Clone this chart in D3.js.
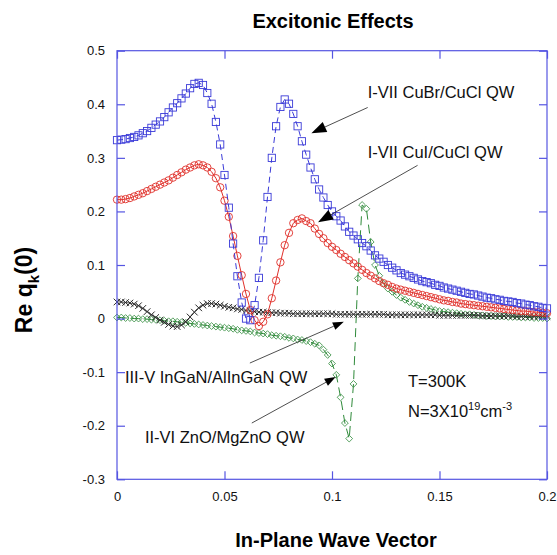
<!DOCTYPE html>
<html><head><meta charset="utf-8">
<script src="https://cdn.jsdelivr.net/npm/d3@7"></script>
<style>body{margin:0;background:#fff}</style>
</head><body>
<svg id="c" width="557" height="555"></svg>
<script>
// ---- data ----
const xValues = [
 0,0.002,0.004,0.006,0.008,0.010,0.012,0.014,0.016,0.018,
 0.020,0.022,0.024,0.026,0.028,0.030,0.032,0.034,0.036,0.038,
 0.040,0.042,0.044,0.046,0.048,0.050,0.052,0.054,0.056,0.058,
 0.060,0.062,0.064,0.066,0.068,0.070,0.072,0.074,0.076,0.078,
 0.080,0.082,0.084,0.086,0.088,0.090,0.092,0.094,0.096,0.098,
 0.100,0.102,0.104,0.106,0.108,0.110,0.112,0.114,0.116,0.118,
 0.120,0.122,0.124,0.126,0.128,0.130,0.132,0.134,0.136,0.138,
 0.140,0.142,0.144,0.146,0.148,0.150,0.152,0.154,0.156,0.158,
 0.160,0.162,0.164,0.166,0.168,0.170,0.172,0.174,0.176,0.178,
 0.180,0.182,0.184,0.186,0.188,0.190,0.192,0.194,0.196,0.198,0.200];

const cuBrCuCl = [
 0.333,0.334,0.335,0.337,0.339,0.342,0.346,0.350,0.356,0.362,
 0.368,0.376,0.385,0.394,0.402,0.411,0.420,0.430,0.438,0.440,
 0.436,0.421,0.401,0.367,0.325,0.268,0.207,0.140,0.079,0.030,
 0.000,-0.003,0.025,0.076,0.146,0.227,0.300,0.359,0.395,0.409,
 0.401,0.382,0.359,0.331,0.306,0.282,0.260,0.241,0.226,0.212,
 0.200,0.191,0.183,0.172,0.162,0.155,0.148,0.141,0.135,0.127,
 0.118,0.112,0.106,0.100,0.095,0.090,0.085,0.082,0.079,0.076,
 0.073,0.070,0.068,0.066,0.063,0.061,0.058,0.056,0.054,0.052,
 0.050,0.048,0.046,0.045,0.043,0.041,0.039,0.038,0.036,0.035,
 0.033,0.032,0.031,0.029,0.028,0.026,0.025,0.023,0.022,0.020,0.019];

const cuICuCl = [
 0.222,0.222,0.223,0.225,0.228,0.231,0.234,0.238,0.242,0.246,
 0.250,0.254,0.258,0.263,0.268,0.273,0.278,0.282,0.286,0.288,
 0.286,0.282,0.274,0.262,0.245,0.220,0.190,0.154,0.117,0.081,
 0.046,0.016,-0.003,-0.014,-0.006,0.008,0.038,0.071,0.105,0.137,
 0.160,0.178,0.184,0.187,0.182,0.178,0.168,0.158,0.150,0.141,
 0.134,0.128,0.121,0.115,0.109,0.103,0.097,0.091,0.085,0.080,
 0.075,0.070,0.066,0.063,0.059,0.056,0.054,0.052,0.050,0.048,
 0.046,0.044,0.042,0.040,0.038,0.036,0.034,0.033,0.031,0.030,
 0.028,0.027,0.026,0.025,0.024,0.023,0.022,0.021,0.020,0.019,
 0.018,0.017,0.016,0.015,0.014,0.014,0.013,0.012,0.012,0.011,0.010];

const inGaN = [
 0.031,0.031,0.030,0.029,0.027,0.024,0.019,0.013,0.007,0.002,
 -0.003,-0.007,-0.011,-0.014,-0.015,-0.012,-0.006,0.003,0.012,0.020,
 0.025,0.028,0.028,0.027,0.025,0.023,0.021,0.020,0.018,0.017,
 0.015,0.014,0.013,0.012,0.012,0.011,0.011,0.011,0.010,0.010,
 0.010,0.009,0.009,0.009,0.009,0.009,0.009,0.009,0.009,0.009,
 0.009,0.008,0.008,0.008,0.008,0.008,0.008,0.008,0.008,0.008,
 0.008,0.008,0.008,0.007,0.007,0.007,0.007,0.007,0.007,0.007,
 0.007,0.007,0.007,0.007,0.007,0.006,0.006,0.006,0.006,0.006,
 0.006,0.006,0.006,0.006,0.006,0.005,0.005,0.005,0.005,0.005,
 0.005,0.005,0.005,0.004,0.004,0.004,0.004,0.004,0.004,0.004,0.004];

const znO = [
 0.002,0.002,0.001,0.001,0.000,0.000,-0.001,-0.001,-0.002,-0.002,
 -0.003,-0.004,-0.005,-0.005,-0.006,-0.007,-0.008,-0.009,-0.010,-0.011,
 -0.012,-0.013,-0.014,-0.015,-0.016,-0.017,-0.018,-0.019,-0.021,-0.022,
 -0.023,-0.024,-0.026,-0.027,-0.028,-0.029,-0.031,-0.032,-0.033,-0.034,
 -0.036,-0.037,-0.039,-0.040,-0.042,-0.044,-0.047,-0.050,-0.058,-0.068,
 -0.084,-0.105,-0.147,-0.195,-0.224,-0.122,0.075,0.212,0.205,0.143,
 0.100,0.080,0.065,0.056,0.050,0.044,0.039,0.035,0.031,0.028,
 0.025,0.022,0.020,0.018,0.016,0.014,0.013,0.012,0.011,0.010,
 0.009,0.008,0.008,0.007,0.006,0.006,0.005,0.005,0.004,0.004,
 0.004,0.003,0.003,0.003,0.002,0.002,0.002,0.001,0.001,0.001,0.000];

const xTicks = [0, 0.05, 0.1, 0.15, 0.2];
const xTickLabels = ["0", "0.05", "0.1", "0.15", "0.2"];
const yTicks = [-0.3, -0.2, -0.1, 0, 0.1, 0.2, 0.3, 0.4, 0.5];
const yTickLabels = ["-0.3", "-0.2", "-0.1", "0", "0.1", "0.2", "0.3", "0.4", "0.5"];

const seriesNames = ["I-VII CuBr/CuCl QW", "I-VII CuI/CuCl QW", "III-V InGaN/AlInGaN QW", "II-VI ZnO/MgZnO QW"];

// ---- drawing ----
const svg = d3.select("#c");
const FONT = "'Liberation Sans', Arial, Helvetica, sans-serif";
const axisColor = "#5555e2";

const x = d3.scaleLinear().domain([0, 0.2]).range([117, 547]);
const y = d3.scaleLinear().domain([-0.3, 0.5]).range([479.3, 50.7]);

svg.append("rect").attr("width", 557).attr("height", 555).attr("fill", "#fff");

const series = [
  {vals: znO,      color: "#2f8a3a", dash: "9,5", sym: "diamond", lw: 1},
  {vals: inGaN,    color: "#2a2a2a", dash: null,  sym: "cross",   lw: 0.8},
  {vals: cuICuCl,  color: "#e0302a", dash: null,  sym: "circle",  lw: 1},
  {vals: cuBrCuCl, color: "#3a3ad8", dash: "6,4", sym: "square",  lw: 1}
];

const line = d3.line().x(d => x(d[0])).y(d => y(d[1]));
const plot = svg.append("g");

series.forEach(s => {
  const pts = xValues.map((xv, i) => [xv, s.vals[i]]);
  plot.append("path").attr("d", line(pts)).attr("fill", "none")
    .attr("stroke", s.color).attr("stroke-width", s.lw)
    .attr("stroke-dasharray", s.dash);
  const g = plot.append("g");
  pts.forEach(p => {
    const cx = x(p[0]), cy = y(p[1]);
    if (s.sym === "circle") {
      g.append("circle").attr("cx", cx).attr("cy", cy).attr("r", 3.7)
        .attr("fill", "none").attr("stroke", s.color).attr("stroke-width", 0.9);
    } else if (s.sym === "square") {
      g.append("rect").attr("x", cx - 3.6).attr("y", cy - 3.6).attr("width", 7.2).attr("height", 7.2)
        .attr("fill", "none").attr("stroke", s.color).attr("stroke-width", 0.9);
    } else if (s.sym === "diamond") {
      g.append("path").attr("d", `M${cx},${cy-3.4}L${cx+3.4},${cy}L${cx},${cy+3.4}L${cx-3.4},${cy}Z`)
        .attr("fill", "none").attr("stroke", s.color).attr("stroke-width", 0.8);
    } else {
      g.append("path").attr("d", `M${cx-3.3},${cy-3.3}L${cx+3.3},${cy+3.3}M${cx-3.3},${cy+3.3}L${cx+3.3},${cy-3.3}`)
        .attr("fill", "none").attr("stroke", s.color).attr("stroke-width", 1);
    }
  });
});

// frame
svg.append("rect").attr("x", 117).attr("y", 50.7).attr("width", 430).attr("height", 428.6)
  .attr("fill", "none").attr("stroke", axisColor).attr("stroke-width", 1.2);

function styleAxis(g) {
  g.select(".domain").remove();
  g.selectAll(".tick line").attr("stroke", axisColor).attr("stroke-width", 1.2);
  g.selectAll(".tick text").attr("fill", "#111").style("font-family", FONT).style("font-size", "13px");
}
svg.append("g").attr("transform", "translate(0,479.3)")
  .call(d3.axisBottom(x).tickValues(xTicks).tickSize(-8).tickPadding(12)
    .tickFormat((d, i) => xTickLabels[i])).call(styleAxis);
svg.append("g").attr("transform", "translate(0,50.7)")
  .call(d3.axisTop(x).tickValues(xTicks).tickSize(-8).tickFormat("")).call(styleAxis);
svg.append("g").attr("transform", "translate(117,0)")
  .call(d3.axisLeft(y).tickValues(yTicks).tickSize(-8).tickPadding(12)
    .tickFormat((d, i) => yTickLabels[i])).call(styleAxis);
svg.append("g").attr("transform", "translate(547,0)")
  .call(d3.axisRight(y).tickValues(yTicks).tickSize(-8).tickFormat("")).call(styleAxis);

// titles
svg.append("text").attr("x", 333).attr("y", 28).attr("text-anchor", "middle")
  .style("font-family", FONT).style("font-size", "20px").style("font-weight", "bold")
  .text("Excitonic Effects");
svg.append("text").attr("x", 336).attr("y", 547).attr("text-anchor", "middle")
  .style("font-family", FONT).style("font-size", "20px").style("font-weight", "bold")
  .text("In-Plane Wave Vector");
const yl = svg.append("text").attr("transform", "translate(32,290) rotate(-90)")
  .attr("text-anchor", "middle")
  .style("font-family", FONT).style("font-size", "23px").style("font-weight", "bold");
yl.append("tspan").text("Re q");
yl.append("tspan").attr("dy", 7).style("font-size", "15px").text("k");
yl.append("tspan").attr("dy", -7).text("(0)");

// annotations (data coordinates)
const annText = [
  {t: seriesNames[0], x: 0.1166, y: 0.411},
  {t: seriesNames[1], x: 0.1166, y: 0.299},
  {t: seriesNames[2], x: 0.0037, y: -0.120},
  {t: seriesNames[3], x: 0.0130, y: -0.233}
];
annText.forEach(a => {
  svg.append("text").attr("x", x(a.x)).attr("y", y(a.y))
    .style("font-family", FONT).style("font-size", "16.5px").attr("fill", "#111").text(a.t);
});

const arrows = [
  {x1: 0.1166, y1: 0.394, x2: 0.0904, y2: 0.346, head: 15, w: 5.5},
  {x1: 0.1398, y1: 0.286, x2: 0.0935, y2: 0.180, head: 15, w: 5.5},
  {x1: 0.0618, y1: -0.083, x2: 0.1055, y2: -0.006, head: 11, w: 4},
  {x1: 0.0627, y1: -0.195, x2: 0.1017, y2: -0.109, head: 11, w: 4}
];
arrows.forEach(a => {
  const X1 = x(a.x1), Y1 = y(a.y1), X2 = x(a.x2), Y2 = y(a.y2);
  const dx = X2 - X1, dy = Y2 - Y1, L = Math.hypot(dx, dy);
  const ux = dx / L, uy = dy / L;
  const bx = X2 - ux * a.head, by = Y2 - uy * a.head;
  svg.append("line").attr("x1", X1).attr("y1", Y1).attr("x2", bx).attr("y2", by)
    .attr("stroke", "#222").attr("stroke-width", 0.8);
  svg.append("path")
    .attr("d", `M${X2},${Y2}L${bx - uy * a.w},${by + ux * a.w}L${bx + uy * a.w},${by - ux * a.w}Z`)
    .attr("fill", "#000");
});

// conditions text
svg.append("text").attr("x", 408).attr("y", 387)
  .style("font-family", FONT).style("font-size", "16.5px").attr("fill", "#111").text("T=300K");
const nt = svg.append("text").attr("x", 408).attr("y", 417)
  .style("font-family", FONT).style("font-size", "16.5px").attr("fill", "#111");
nt.append("tspan").text("N=3X10");
nt.append("tspan").attr("dy", -7).style("font-size", "11px").text("19");
nt.append("tspan").attr("dy", 7).text("cm");
nt.append("tspan").attr("dy", -7).style("font-size", "11px").text("-3");
</script>
</body></html>
